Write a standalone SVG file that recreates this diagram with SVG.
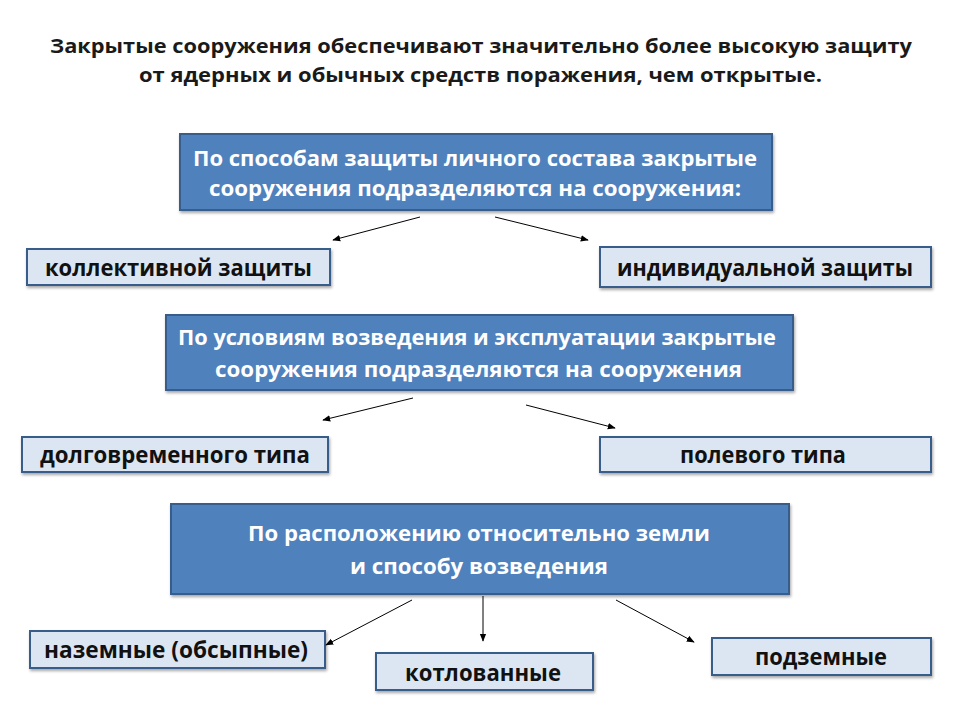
<svg xmlns="http://www.w3.org/2000/svg" width="960" height="720" viewBox="0 0 960 720">
<defs>
<filter id="sh" x="-5%" y="-20%" width="110%" height="150%">
<feDropShadow dx="1" dy="2" stdDeviation="1.5" flood-color="#000" flood-opacity="0.35"/>
</filter>
<marker id="ah" viewBox="0 0 10 10" refX="9" refY="5" markerWidth="8" markerHeight="8" markerUnits="userSpaceOnUse" orient="auto">
<path d="M0,1 L10,5 L0,9 Z" fill="#000"/>
</marker>
<style>
.title{font-family:"Open Sans","Noto Sans","DejaVu Sans",sans-serif;font-weight:bold;font-size:20px;fill:#1a1a1a}
.big{fill:#4F81BD;stroke:#385D8A;stroke-width:2;filter:url(#sh)}
.small{fill:#DCE6F2;stroke:#385D8A;stroke-width:2;filter:url(#sh)}
.wt{font-family:"Open Sans","Noto Sans","DejaVu Sans",sans-serif;font-weight:bold;font-size:22px;fill:#fff}
.wt2{font-family:"Open Sans","Noto Sans","DejaVu Sans",sans-serif;font-weight:bold;font-size:21px;fill:#fff}
.bt{font-family:"Open Sans","Noto Sans","DejaVu Sans",sans-serif;font-weight:bold;font-size:23px;fill:#111}
.cn{fill:none;stroke:#000;stroke-width:1;marker-end:url(#ah)}
</style>
</defs>
<rect width="960" height="720" fill="#fff"/>
<g id="title">
<text class="title" x="50" y="53" textLength="862" lengthAdjust="spacingAndGlyphs">Закрытые сооружения обеспечивают значительно более высокую защиту</text>
<text class="title" x="139" y="82" textLength="683" lengthAdjust="spacingAndGlyphs">от ядерных и обычных средств поражения, чем открытые.</text>
</g>
<g id="node-protection">
<rect class="big" x="180" y="134" width="592" height="76"/>
<text class="wt" x="193" y="166" textLength="564" lengthAdjust="spacingAndGlyphs">По способам защиты  личного состава закрытые</text>
<text class="wt" x="209" y="196" textLength="532" lengthAdjust="spacingAndGlyphs">сооружения подразделяются на сооружения:</text>
</g>
<g id="node-collective">
<rect class="small" x="27" y="249" width="303" height="36"/>
<text class="bt" x="45" y="276" textLength="267" lengthAdjust="spacingAndGlyphs">коллективной защиты</text>
</g>
<g id="node-individual">
<rect class="small" x="600" y="247" width="331" height="40"/>
<text class="bt" x="617" y="276" textLength="296" lengthAdjust="spacingAndGlyphs">индивидуальной защиты</text>
</g>
<g id="node-conditions">
<rect class="big" x="166" y="315" width="627" height="75"/>
<text class="wt2" x="178" y="345" textLength="598" lengthAdjust="spacingAndGlyphs">По условиям возведения и эксплуатации закрытые</text>
<text class="wt2" x="215" y="377" textLength="527" lengthAdjust="spacingAndGlyphs">сооружения подразделяются на сооружения</text>
</g>
<g id="node-longterm">
<rect class="small" x="22" y="437" width="306" height="35"/>
<text class="bt" x="40" y="463" textLength="270" lengthAdjust="spacingAndGlyphs">долговременного типа</text>
</g>
<g id="node-field">
<rect class="small" x="600" y="437" width="331" height="35"/>
<text class="bt" x="680" y="463" textLength="166" lengthAdjust="spacingAndGlyphs">полевого типа</text>
</g>
<g id="node-location">
<rect class="big" x="171" y="504" width="618" height="90"/>
<text class="wt" x="248" y="541" textLength="462" lengthAdjust="spacingAndGlyphs">По расположению относительно земли</text>
<text class="wt" x="350" y="574" textLength="258" lengthAdjust="spacingAndGlyphs">и способу возведения</text>
</g>
<g id="node-ground">
<rect class="small" x="30" y="631" width="295" height="37"/>
<text class="bt" x="44" y="658" textLength="264" lengthAdjust="spacingAndGlyphs">наземные (обсыпные)</text>
</g>
<g id="node-pit">
<rect class="small" x="376" y="653" width="217" height="37"/>
<text class="bt" x="405" y="681" textLength="156" lengthAdjust="spacingAndGlyphs">котлованные</text>
</g>
<g id="node-underground">
<rect class="small" x="712" y="638" width="219" height="37"/>
<text class="bt" x="755" y="665" textLength="132" lengthAdjust="spacingAndGlyphs">подземные</text>
</g>
<g id="connectors">
<line class="cn" x1="420" y1="217" x2="333" y2="240"/>
<line class="cn" x1="495" y1="217" x2="588" y2="240"/>
<line class="cn" x1="413" y1="398" x2="323" y2="420"/>
<line class="cn" x1="526" y1="405" x2="615" y2="428"/>
<line class="cn" x1="412" y1="600" x2="326" y2="645"/>
<line class="cn" x1="483" y1="596" x2="483" y2="641"/>
<line class="cn" x1="616" y1="600" x2="694" y2="642"/>
</g>
</svg>
